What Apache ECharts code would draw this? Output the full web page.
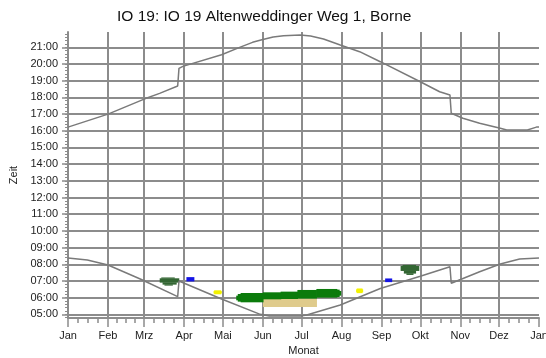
<!DOCTYPE html>
<html>
<head>
<meta charset="utf-8">
<script src="https://cdn.jsdelivr.net/npm/echarts@6/dist/echarts.min.js"></script>
<style>
  html, body { margin: 0; padding: 0; background: #fff; }
  #chart { width: 546px; height: 358px; }
</style>
</head>
<body>
<div id="chart"></div>
<script>
// Shadow-flicker calendar: sunrise / sunset over the year and shadow periods per receptor
const chartTitle = 'IO 19: IO 19 Altenweddinger Weg 1, Borne';

// x axis: day of year, month boundaries and their labels
const monthStarts = [0, 31, 59, 90, 120, 151, 181, 212, 243, 273, 304, 334, 365];
const monthNames = ['Jan', 'Feb', 'Mrz', 'Apr', 'Mai', 'Jun', 'Jul', 'Aug', 'Sep', 'Okt', 'Nov', 'Dez', 'Jan'];

// y axis: clock time in hours
const hourTicks = [5, 6, 7, 8, 9, 10, 11, 12, 13, 14, 15, 16, 17, 18, 19, 20, 21];

// sunrise [day, hour] (with daylight-saving jumps)
const sunrise = [
  [0, 8.38], [15, 8.26], [31, 7.96], [56, 7.12], [85, 6.06], [86, 7.0],
  [119, 5.92], [149, 5.0], [156, 4.9], [180, 4.9], [185, 4.96], [211, 5.56],
  [242, 6.55], [273, 7.28], [296, 7.85], [297, 6.86], [319, 7.55], [335, 8.02],
  [350, 8.32], [365, 8.38]
];

// sunset [day, hour]
const sunset = [
  [0, 16.22], [31, 17.0], [59, 17.9], [71, 18.24], [85, 18.68], [86, 19.74],
  [89, 19.86], [119, 20.56], [133, 21.0], [143, 21.3], [151, 21.47], [159, 21.62],
  [167, 21.70], [180, 21.74], [188, 21.68], [198, 21.50], [211, 21.14], [226, 20.74],
  [242, 20.14], [273, 18.94], [288, 18.34], [296, 18.14], [297, 17.05], [306, 16.75],
  [319, 16.45], [335, 16.15], [340, 16.05], [356, 16.05], [363, 16.22], [365, 16.22]
];

// shadow periods [fromDay, toDay, fromHour, toHour]
const shadowDarkGreen = [
  [72.5, 82.5, 7.14, 7.21], [71.3, 86, 6.90, 7.16], [73.5, 84, 6.78, 6.92], [75, 81, 6.72, 6.80],
  [259.5, 269.5, 7.88, 7.96], [258, 272, 7.60, 7.90], [260.5, 269.5, 7.44, 7.62], [262.5, 267.5, 7.36, 7.46]
];
const shadowBlue = [[92, 97.7, 6.97, 7.23], [246, 251, 6.93, 7.15]];
const shadowYellow = [
  [113.5, 118.5, 6.20, 6.44], [113, 119, 6.25, 6.39],
  [224, 228, 6.27, 6.55], [223.5, 228.5, 6.32, 6.50]
];
const shadowTan = [[151.3, 192.7, 5.44, 5.95]];
const shadowGreen = [
  [130.6, 132.5, 5.84, 6.12], [131.8, 135, 5.76, 6.22], [134, 151.3, 5.72, 6.28],
  [151.3, 165, 5.90, 6.32], [165, 178, 5.92, 6.36], [178, 192.7, 5.94, 6.46],
  [192.7, 208.5, 6.0, 6.52], [208, 210.3, 6.04, 6.48], [209.8, 211.5, 6.12, 6.40]
];

// minor tick positions: quarter months and 12-minute steps
const minorDays = [];
for (let i = 0; i < 12; i++) {
  const len = monthStarts[i + 1] - monthStarts[i];
  for (let k = 1; k <= 3; k++) minorDays.push(monthStarts[i] + len * k / 4);
}
const minorHours = [];
for (let v = 48; v <= 218; v += 2) minorHours.push(v / 10);

const Y_MIN = 4.78, Y_MAX = 21.92;
const gridColor = '#8c8c8c';
const font = 'Liberation Sans, Arial, sans-serif';

function pad(n) { return (n < 10 ? '0' : '') + n; }

// each shadow period is a filled block; blocks are widened by a hair so neighbours join seamlessly
function rectSeries(data, color) {
  return {
    type: 'custom',
    data: data,
    z: 5,
    silent: true,
    encode: { x: [0, 1], y: [2, 3] },
    renderItem: function (params, api) {
      const a = api.coord([api.value(0), api.value(3)]);
      const b = api.coord([api.value(1), api.value(2)]);
      return {
        type: 'rect',
        shape: { x: a[0] - 0.3, y: a[1], width: b[0] - a[0] + 0.6, height: b[1] - a[1] },
        style: { fill: color }
      };
    }
  };
}

const chart = echarts.init(document.getElementById('chart'), null, { renderer: 'canvas' });
chart.setOption({
  animation: false,
  backgroundColor: '#fff',
  title: {
    text: chartTitle,
    left: 112,
    top: 4,
    textStyle: { fontSize: 15.5, fontWeight: 'normal', color: '#111', fontFamily: font }
  },
  grid: { left: 68, right: 7, top: 32, bottom: 40, containLabel: false, outerBoundsMode: 'none' },
  xAxis: [
    {
      type: 'value', min: 0, max: 365, position: 'bottom', z: 3,
      name: 'Monat', nameLocation: 'middle', nameGap: 27,
      nameTextStyle: { fontSize: 11, color: '#222', fontFamily: font },
      axisLine: { show: true, lineStyle: { color: gridColor, width: 2 } },
      axisTick: { show: true, customValues: monthStarts, length: 9, lineStyle: { color: gridColor, width: 1.5 } },
      axisLabel: {
        customValues: monthStarts, margin: 12, fontSize: 11, color: '#222', fontFamily: font,
        formatter: function (v) { return monthNames[monthStarts.indexOf(Math.round(v))]; }
      },
      splitLine: { show: true, showMaxLine: false, lineStyle: { color: gridColor, width: 2 } }
    },
    {
      type: 'value', min: 0, max: 365, position: 'bottom', z: 3,
      axisLine: { show: false },
      axisTick: { show: true, customValues: minorDays, length: 5, lineStyle: { color: gridColor, width: 1.5 } },
      axisLabel: { show: false },
      splitLine: { show: false }
    }
  ],
  yAxis: [
    {
      type: 'value', min: Y_MIN, max: Y_MAX, position: 'left', z: 3,
      name: 'Zeit', nameLocation: 'middle', nameGap: 47,
      nameTextStyle: { fontSize: 11, color: '#222', fontFamily: font },
      axisLine: { show: true, lineStyle: { color: gridColor, width: 2 } },
      axisTick: { show: true, customValues: hourTicks, length: 6, lineStyle: { color: gridColor, width: 1.5 } },
      axisLabel: {
        customValues: hourTicks, margin: 10, fontSize: 11, color: '#222', fontFamily: font,
        formatter: function (v) { return pad(Math.round(v)) + ':00'; }
      },
      splitLine: { show: true, lineStyle: { color: gridColor, width: 2 } }
    },
    {
      type: 'value', min: Y_MIN, max: Y_MAX, position: 'left', offset: 0, z: 3,
      axisLine: { show: false },
      axisTick: { show: true, customValues: minorHours, length: 3, lineStyle: { color: gridColor, width: 1 } },
      axisLabel: { show: false },
      splitLine: { show: false }
    }
  ],
  series: [
    rectSeries(shadowTan, '#dfcb8c'),
    rectSeries(shadowGreen, '#0b7b0b'),
    rectSeries(shadowDarkGreen, '#336633'),
    rectSeries(shadowBlue, '#1414e6'),
    rectSeries(shadowYellow, '#f2f200'),
    {
      type: 'line', data: sunrise, showSymbol: false, silent: true, z: 6,
      lineStyle: { color: '#7a7a7a', width: 1.5 }
    },
    {
      type: 'line', data: sunset, showSymbol: false, silent: true, z: 6,
      lineStyle: { color: '#7a7a7a', width: 1.5 }
    }
  ]
});
</script>
</body>
</html>
